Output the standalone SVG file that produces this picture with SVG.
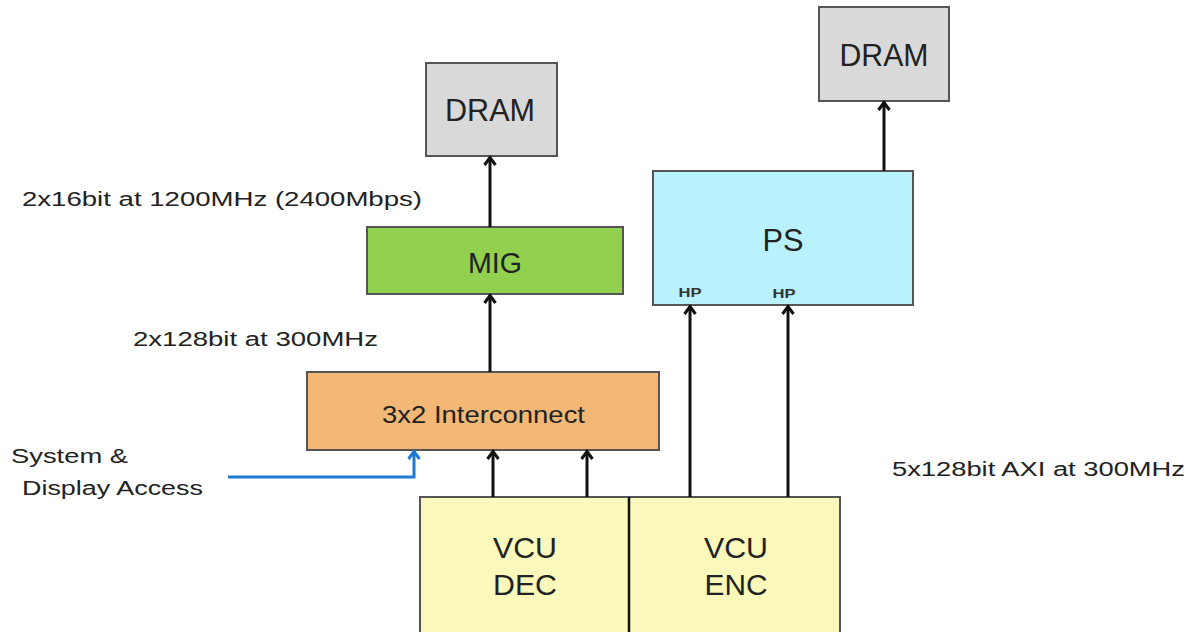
<svg xmlns="http://www.w3.org/2000/svg" width="1199" height="632" viewBox="0 0 1199 632">
<defs>
<style>
.box{stroke:#555;stroke-width:2}
.t{font-family:"Liberation Sans",Arial,sans-serif;fill:#222;text-anchor:middle}
.lbl{font-family:"Liberation Sans",Arial,sans-serif;fill:#222;font-size:20px}
.c{stroke:#111;stroke-width:3;fill:none}
.hp{font-family:"Liberation Sans",Arial,sans-serif;font-weight:bold;font-size:12px;fill:#333;text-anchor:middle}
</style>
<marker id="ah" viewBox="0 0 14 14" refX="11" refY="7" markerWidth="14" markerHeight="14" markerUnits="userSpaceOnUse" orient="auto">
<path d="M3,1.5 L10.5,7 L3,12.5" fill="none" stroke="#111" stroke-width="3"/>
</marker>
<marker id="ahb" viewBox="0 0 14 14" refX="11" refY="7" markerWidth="14" markerHeight="14" markerUnits="userSpaceOnUse" orient="auto">
<path d="M3,1.5 L10.5,7 L3,12.5" fill="none" stroke="#1a7bd0" stroke-width="3"/>
</marker>
</defs>
<rect width="1199" height="632" fill="#fff"/>
<g id="dram1"><rect class="box" x="426" y="63" width="131" height="93" fill="#d9d9d9"/><text class="t" x="490" y="121" font-size="31" textLength="90" lengthAdjust="spacingAndGlyphs">DRAM</text></g>
<g id="dram2"><rect class="box" x="819" y="7" width="130" height="94" fill="#d9d9d9"/><text class="t" x="884" y="66" font-size="31" textLength="89" lengthAdjust="spacingAndGlyphs">DRAM</text></g>
<g id="mig"><rect class="box" x="367" y="227" width="256" height="67" fill="#92d050"/><text class="t" x="495" y="273" font-size="30" textLength="54" lengthAdjust="spacingAndGlyphs">MIG</text></g>
<g id="ps"><rect class="box" x="653" y="171" width="260" height="134" fill="#b9f1fd"/><text class="t" x="783" y="251" font-size="32" textLength="41" lengthAdjust="spacingAndGlyphs">PS</text><text class="hp" x="690" y="297" textLength="23" lengthAdjust="spacingAndGlyphs">HP</text><text class="hp" x="784" y="298" textLength="23" lengthAdjust="spacingAndGlyphs">HP</text></g>
<g id="interconnect"><rect class="box" x="307" y="372" width="352" height="78" fill="#f3b776"/><text class="t" x="483.5" y="423" font-size="24" textLength="203" lengthAdjust="spacingAndGlyphs">3x2 Interconnect</text></g>
<g id="vcudec"><rect class="box" x="420" y="497" width="209" height="140" fill="#faf8bb"/><text class="t" x="525" y="558" font-size="30" textLength="64" lengthAdjust="spacingAndGlyphs">VCU</text><text class="t" x="525" y="595" font-size="30" textLength="64" lengthAdjust="spacingAndGlyphs">DEC</text></g>
<g id="vcuenc"><rect class="box" x="629" y="497" width="211" height="140" fill="#faf8bb"/><line x1="629" y1="497" x2="629" y2="632" stroke="#111" stroke-width="2.5"/><text class="t" x="736" y="558" font-size="30" textLength="64" lengthAdjust="spacingAndGlyphs">VCU</text><text class="t" x="736" y="595" font-size="30" textLength="63" lengthAdjust="spacingAndGlyphs">ENC</text></g>
<g id="connectors">
<line class="c" x1="490" y1="227" x2="490" y2="157" marker-end="url(#ah)"/>
<line class="c" x1="490" y1="372" x2="490" y2="295" marker-end="url(#ah)"/>
<line class="c" x1="493" y1="497" x2="493" y2="451" marker-end="url(#ah)"/>
<line class="c" x1="587" y1="497" x2="587" y2="451" marker-end="url(#ah)"/>
<line class="c" x1="690" y1="497" x2="690" y2="306" marker-end="url(#ah)"/>
<line class="c" x1="788" y1="497" x2="788" y2="306" marker-end="url(#ah)"/>
<line class="c" x1="884" y1="171" x2="884" y2="102" marker-end="url(#ah)"/>
<polyline points="228,477 414,477 414,451" fill="none" stroke="#1a7bd0" stroke-width="3" marker-end="url(#ahb)"/>
</g>
<g id="labels">
<text class="lbl" x="22" y="206" textLength="400" lengthAdjust="spacingAndGlyphs">2x16bit at 1200MHz (2400Mbps)</text>
<text class="lbl" x="133" y="346" textLength="245" lengthAdjust="spacingAndGlyphs">2x128bit at 300MHz</text>
<text class="lbl" x="892" y="476" textLength="293" lengthAdjust="spacingAndGlyphs">5x128bit AXI at 300MHz</text>
<text class="lbl" x="11" y="463" textLength="117" lengthAdjust="spacingAndGlyphs">System &amp;</text>
<text class="lbl" x="22" y="495" textLength="181" lengthAdjust="spacingAndGlyphs">Display Access</text>
</g>
</svg>
